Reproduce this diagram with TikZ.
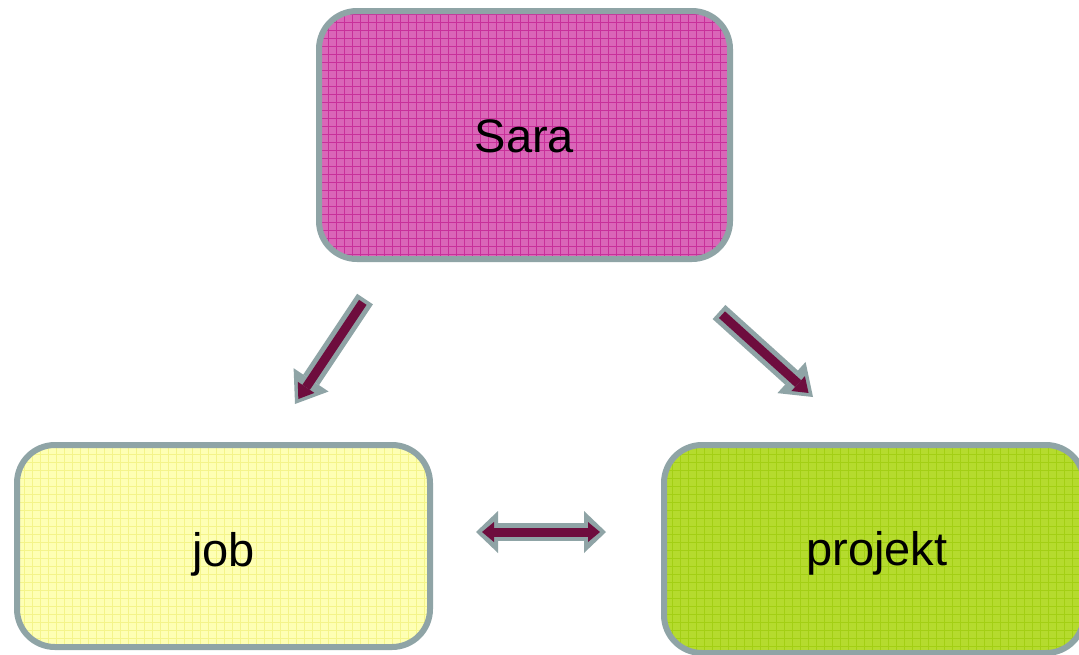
\documentclass[tikz,border=0pt]{standalone}
\usepackage{fontspec}
\setmainfont{Liberation Sans}
\usetikzlibrary{arrows.meta,patterns.meta}
\definecolor{edgegray}{HTML}{8FA4A6}
\definecolor{saracol}{HTML}{DA66B8}
\definecolor{saragrid}{HTML}{C8309A}
\definecolor{jobcol}{HTML}{FEFFB4}
\definecolor{jobgrid}{HTML}{F4F48A}
\definecolor{projcol}{HTML}{B5DB2E}
\definecolor{projgrid}{HTML}{A3CF14}
\definecolor{arrfill}{HTML}{6E0D3E}
\tikzset{
  box/.style={draw=edgegray, line width=6pt, rounded corners=38pt, inner sep=0pt,
    font=\fontsize{47}{52}\selectfont, text=black},
  gridded/.style 2 args={preaction={fill=#1},
    preaction={pattern={Lines[angle=0,distance=8pt,line width=0.7pt]}, pattern color=#2},
    preaction={pattern={Lines[angle=90,distance=8pt,line width=0.7pt]}, pattern color=#2}},
  outerarr/.style={draw=edgegray, line width=19pt,
    -{Triangle[width=42pt,length=29pt,line width=0pt,fill=edgegray]}},
  innerarr/.style={draw=arrfill, line width=9pt, shorten >=6pt, shorten <=4pt,
    -{Triangle[width=20pt,length=14pt,line width=0pt,fill=arrfill]}},
  outerdbl/.style={draw=edgegray, line width=18pt,
    {Triangle[width=42pt,length=22pt,line width=0pt,fill=edgegray]}-{Triangle[width=42pt,length=22pt,line width=0pt,fill=edgegray]}},
  innerdbl/.style={draw=arrfill, line width=9pt, shorten >=6pt, shorten <=6pt,
    {Triangle[width=20pt,length=12pt,line width=0pt,fill=arrfill]}-{Triangle[width=20pt,length=12pt,line width=0pt,fill=arrfill]}},
}
\begin{document}
\begin{tikzpicture}[x=1pt,y=-1pt]
\useasboundingbox (0,0) rectangle (1079,654);
\clip (0,0) rectangle (1079,654);
\fill[white] (0,0) rectangle (1079,654);

\node[box, gridded={saracol}{saragrid}, minimum width=411pt, minimum height=248pt] (sara) at (524.5,135) {\raisebox{-17pt}[0pt][0pt]{Sara}};
\node[box, gridded={jobcol}{jobgrid}, minimum width=413pt, minimum height=202pt] (job) at (223.5,546) {\raisebox{-20pt}[0pt][0pt]{job}};
\node[box, gridded={projcol}{projgrid}, minimum width=420pt, minimum height=208pt] (projekt) at (874,549) {\hspace*{6pt}\raisebox{-16pt}[0pt][0pt]{projekt}};

\coordinate (a1s) at (365,299);
\coordinate (a1e) at (295,404);
\coordinate (a2s) at (719,312);
\coordinate (a2e) at (813,397);
\coordinate (a3s) at (476,532);
\coordinate (a3e) at (606,532);

\draw[outerarr] (a1s) -- (a1e);
\draw[innerarr] (a1s) -- (a1e);
\draw[outerarr] (a2s) -- (a2e);
\draw[innerarr] (a2s) -- (a2e);
\draw[outerdbl] (a3s) -- (a3e);
\draw[innerdbl] (a3s) -- (a3e);
\end{tikzpicture}
\end{document}
